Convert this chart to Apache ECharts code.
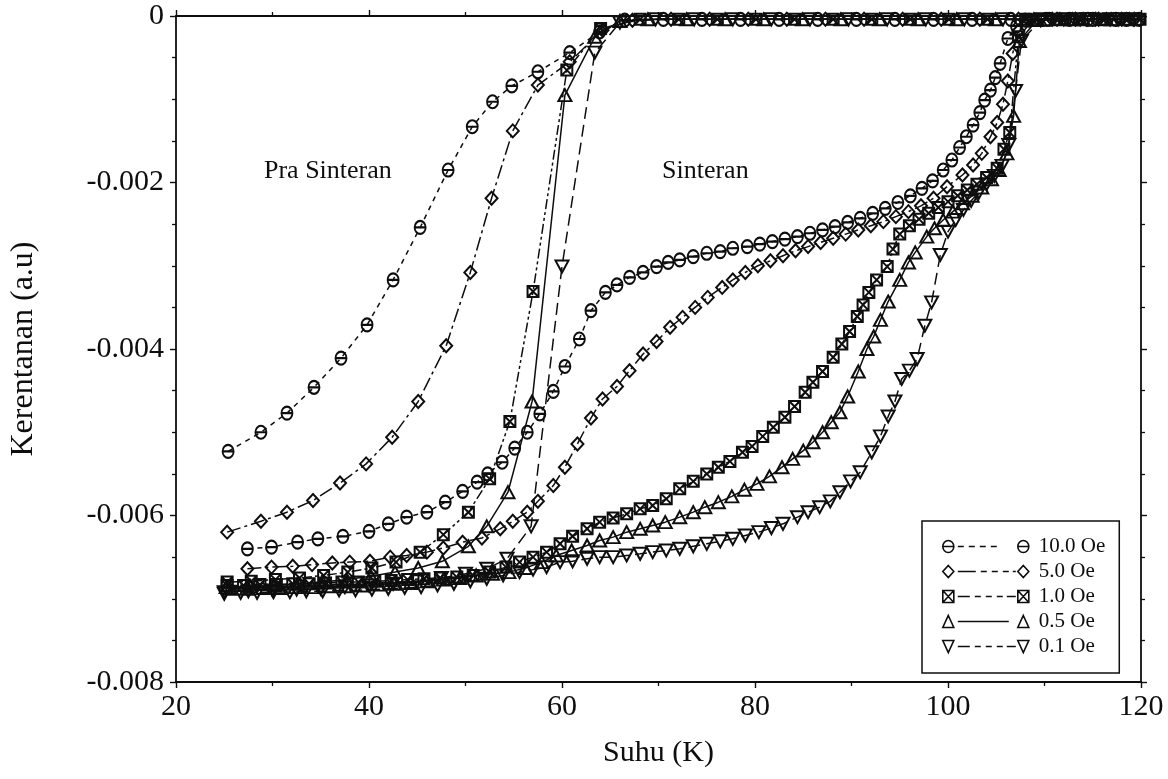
<!DOCTYPE html>
<html>
<head>
<meta charset="utf-8">
<script src="https://cdn.jsdelivr.net/npm/echarts@6/dist/echarts.min.js"></script>
<style>
  html, body { margin: 0; background: #fff; }
  #main { width: 1168px; height: 779px; }
</style>
</head>
<body>
<div id="main"></div>
<script>
// medan magnet (legend)
const fields = ['10.0 Oe', '5.0 Oe', '1.0 Oe', '0.5 Oe', '0.1 Oe'];

// Pra Sinteran: [suhu (K), kerentanan (a.u)]
const pra10 = [[25.4,-0.00523],[28.8,-0.00500],[31.5,-0.00477],[34.3,-0.00446],[37.1,-0.00411],[39.8,-0.00371],[42.5,-0.00317],[45.3,-0.00254],[48.2,-0.00185],[50.7,-0.00133],[52.8,-0.00103],[54.8,-0.00084],[57.5,-0.00067],[60.8,-0.00044],[63.9,-0.00019],[66.5,-0.00005],[70.5,-0.00004],[74.5,-0.00004],[78.5,-0.00004],[82.5,-0.00004],[86.5,-0.00004],[90.5,-0.00004],[94.5,-0.00004],[98.5,-0.00004],[102.5,-0.00004],[106.5,-0.00004],[110.5,-0.00004],[114.5,-0.00004],[118.5,-0.00004]];
const pra5 = [[25.3,-0.00620],[28.8,-0.00607],[31.5,-0.00596],[34.2,-0.00582],[37.0,-0.00561],[39.7,-0.00538],[42.4,-0.00506],[45.1,-0.00463],[48.0,-0.00396],[50.5,-0.00308],[52.7,-0.00219],[54.9,-0.00138],[57.5,-0.00083],[60.8,-0.00055],[64.2,-0.00017],[67.3,-0.00005],[71.3,-0.00004],[75.3,-0.00004],[79.3,-0.00004],[83.3,-0.00004],[87.3,-0.00004],[91.3,-0.00004],[95.3,-0.00004],[99.3,-0.00004],[103.3,-0.00004],[107.3,-0.00004],[111.3,-0.00004],[115.3,-0.00004],[119.3,-0.00004]];
const pra1 = [[25.3,-0.00680],[27.8,-0.00679],[30.3,-0.00677],[32.8,-0.00675],[35.3,-0.00672],[37.8,-0.00668],[40.3,-0.00663],[42.8,-0.00656],[45.3,-0.00644],[47.7,-0.00623],[50.3,-0.00596],[52.5,-0.00556],[54.6,-0.00487],[57.0,-0.00331],[60.5,-0.00065],[64.0,-0.00015],[68.1,-0.00004],[72.1,-0.00004],[76.1,-0.00004],[80.1,-0.00004],[84.1,-0.00004],[88.1,-0.00004],[92.1,-0.00004],[96.1,-0.00004],[100.1,-0.00004],[104.1,-0.00004],[108.1,-0.00004],[112.1,-0.00004],[116.1,-0.00004],[119.9,-0.00004]];
const pra05 = [[25.2,-0.00686],[27.7,-0.00685],[30.2,-0.00684],[32.7,-0.00682],[35.2,-0.00680],[37.7,-0.00677],[40.2,-0.00673],[42.7,-0.00668],[45.1,-0.00663],[47.6,-0.00655],[50.3,-0.00637],[52.2,-0.00613],[54.4,-0.00572],[56.9,-0.00463],[60.3,-0.00095],[63.4,-0.00025],[66.0,-0.00006],[68.9,-0.00004],[72.9,-0.00004],[76.9,-0.00004],[80.9,-0.00004],[84.9,-0.00004],[88.9,-0.00004],[92.9,-0.00004],[96.9,-0.00004],[100.9,-0.00004],[104.9,-0.00004],[108.9,-0.00004],[112.9,-0.00004],[116.9,-0.00004]];
const pra01 = [[25.0,-0.00692],[27.5,-0.00691],[30.0,-0.00690],[32.5,-0.00689],[35.0,-0.00688],[37.5,-0.00686],[40.0,-0.00684],[42.5,-0.00682],[45.0,-0.00679],[47.5,-0.00675],[50.0,-0.00670],[52.2,-0.00664],[54.3,-0.00652],[56.8,-0.00613],[60.0,-0.00301],[63.4,-0.00044],[66.0,-0.00008],[69.7,-0.00004],[73.7,-0.00004],[77.7,-0.00004],[81.7,-0.00004],[85.7,-0.00004],[89.7,-0.00004],[93.7,-0.00004],[97.7,-0.00004],[101.7,-0.00004],[105.7,-0.00004],[109.7,-0.00004],[113.7,-0.00004],[117.7,-0.00004]];

// Sinteran
const sin10 = [[27.4,-0.00640],[29.9,-0.00638],[32.6,-0.00632],[34.7,-0.00628],[37.3,-0.00625],[40.0,-0.00619],[42.0,-0.00610],[43.9,-0.00602],[46.0,-0.00596],[47.9,-0.00584],[49.7,-0.00571],[51.2,-0.00560],[52.3,-0.00550],[53.8,-0.00536],[55.1,-0.00519],[56.4,-0.00500],[57.7,-0.00478],[59.1,-0.00451],[60.3,-0.00421],[61.8,-0.00388],[63.0,-0.00354],[64.5,-0.00332],[65.7,-0.00323],[67.0,-0.00314],[68.4,-0.00308],[69.8,-0.00301],[71.0,-0.00296],[72.2,-0.00293],[73.6,-0.00289],[75.0,-0.00285],[76.4,-0.00283],[77.7,-0.00279],[79.2,-0.00277],[80.5,-0.00274],[81.8,-0.00271],[83.1,-0.00268],[84.4,-0.00265],[85.7,-0.00261],[87.0,-0.00257],[88.3,-0.00253],[89.6,-0.00248],[90.9,-0.00243],[92.2,-0.00237],[93.5,-0.00231],[94.8,-0.00224],[96.1,-0.00216],[97.3,-0.00207],[98.4,-0.00198],[99.5,-0.00185],[100.4,-0.00173],[101.2,-0.00158],[101.9,-0.00145],[102.6,-0.00131],[103.3,-0.00116],[103.8,-0.00101],[104.4,-0.00089],[104.9,-0.00074],[105.4,-0.00057],[106.2,-0.00027],[107.1,-0.00012],[108.0,-0.00005],[110.2,-0.00004],[112.6,-0.00004],[115.0,-0.00004],[117.4,-0.00004],[119.8,-0.00004]];
const sin5 = [[27.4,-0.00664],[29.9,-0.00662],[32.1,-0.00661],[34.1,-0.00659],[36.2,-0.00657],[38.0,-0.00656],[40.1,-0.00655],[42.2,-0.00650],[43.9,-0.00648],[46.0,-0.00644],[47.7,-0.00639],[49.7,-0.00632],[51.7,-0.00627],[53.6,-0.00616],[54.9,-0.00607],[56.4,-0.00596],[57.5,-0.00583],[59.1,-0.00564],[60.3,-0.00542],[61.6,-0.00514],[63.0,-0.00483],[64.2,-0.00460],[65.7,-0.00445],[67.0,-0.00426],[68.4,-0.00406],[69.8,-0.00391],[71.2,-0.00374],[72.5,-0.00362],[73.8,-0.00350],[75.1,-0.00338],[76.6,-0.00326],[77.7,-0.00317],[79.0,-0.00308],[80.3,-0.00300],[81.6,-0.00294],[82.9,-0.00288],[84.2,-0.00282],[85.5,-0.00277],[86.8,-0.00272],[88.1,-0.00267],[89.4,-0.00262],[90.7,-0.00257],[92.0,-0.00252],[93.3,-0.00247],[94.6,-0.00241],[95.9,-0.00235],[97.2,-0.00228],[98.5,-0.00219],[99.9,-0.00205],[101.5,-0.00191],[102.6,-0.00179],[103.5,-0.00165],[104.4,-0.00145],[105.1,-0.00128],[105.7,-0.00106],[106.2,-0.00078],[106.7,-0.00045],[107.3,-0.00018],[108.4,-0.00005],[110.8,-0.00004],[113.2,-0.00004],[115.6,-0.00004],[118.0,-0.00004]];
const sin1 = [[25.3,-0.00684],[27.0,-0.00684],[28.7,-0.00683],[30.4,-0.00683],[32.1,-0.00682],[33.8,-0.00682],[35.5,-0.00681],[37.2,-0.00680],[38.9,-0.00680],[40.6,-0.00679],[42.3,-0.00678],[44.0,-0.00677],[45.7,-0.00676],[47.4,-0.00675],[49.1,-0.00674],[50.8,-0.00672],[52.5,-0.00668],[54.2,-0.00662],[55.6,-0.00656],[57.0,-0.00650],[58.4,-0.00644],[59.8,-0.00634],[61.1,-0.00625],[62.6,-0.00616],[63.9,-0.00608],[65.3,-0.00603],[66.7,-0.00598],[68.1,-0.00592],[69.4,-0.00588],[70.8,-0.00580],[72.2,-0.00568],[73.6,-0.00559],[75.0,-0.00550],[76.2,-0.00542],[77.4,-0.00535],[78.7,-0.00524],[79.7,-0.00517],[80.8,-0.00505],[81.9,-0.00494],[83.1,-0.00482],[84.1,-0.00469],[85.2,-0.00452],[86.0,-0.00440],[87.0,-0.00427],[88.1,-0.00410],[89.0,-0.00394],[89.8,-0.00379],[90.6,-0.00361],[91.2,-0.00347],[91.8,-0.00332],[92.6,-0.00317],[93.7,-0.00301],[94.3,-0.00280],[95.0,-0.00262],[96.0,-0.00252],[97.0,-0.00244],[98.0,-0.00237],[99.0,-0.00230],[100.0,-0.00223],[101.0,-0.00216],[102.0,-0.00209],[103.0,-0.00202],[104.0,-0.00194],[105.1,-0.00183],[105.8,-0.00160],[106.4,-0.00140],[107.3,-0.00025],[108.8,-0.00005],[111.2,-0.00004],[113.6,-0.00004],[116.0,-0.00004],[118.4,-0.00004]];
const sin05 = [[25.6,-0.00688],[27.3,-0.00688],[29.0,-0.00687],[30.7,-0.00687],[32.4,-0.00686],[34.1,-0.00686],[35.8,-0.00685],[37.5,-0.00685],[39.2,-0.00684],[40.9,-0.00683],[42.6,-0.00682],[44.3,-0.00681],[46.0,-0.00679],[47.7,-0.00677],[49.4,-0.00675],[51.1,-0.00672],[52.8,-0.00670],[54.5,-0.00668],[56.2,-0.00663],[57.9,-0.00656],[59.4,-0.00648],[61.0,-0.00642],[62.6,-0.00636],[63.9,-0.00630],[65.3,-0.00626],[66.7,-0.00620],[68.1,-0.00616],[69.4,-0.00612],[70.7,-0.00608],[72.2,-0.00602],[73.6,-0.00596],[74.8,-0.00590],[76.2,-0.00584],[77.6,-0.00577],[78.9,-0.00569],[80.2,-0.00562],[81.5,-0.00553],[82.8,-0.00542],[83.9,-0.00532],[85.0,-0.00522],[86.0,-0.00512],[87.0,-0.00500],[87.9,-0.00488],[88.8,-0.00476],[89.6,-0.00457],[90.7,-0.00427],[91.6,-0.00400],[92.3,-0.00385],[93.0,-0.00365],[93.8,-0.00343],[95.0,-0.00317],[95.9,-0.00296],[96.6,-0.00284],[97.8,-0.00265],[98.6,-0.00255],[99.5,-0.00245],[100.5,-0.00235],[101.5,-0.00225],[102.5,-0.00216],[103.5,-0.00206],[104.5,-0.00196],[105.3,-0.00185],[106.1,-0.00165],[106.8,-0.00120],[107.4,-0.00030],[109.2,-0.00005],[111.6,-0.00004],[114.0,-0.00004],[116.4,-0.00004],[118.8,-0.00004]];
const sin01 = [[25.0,-0.00694],[26.7,-0.00693],[28.4,-0.00693],[30.1,-0.00692],[31.8,-0.00692],[33.5,-0.00691],[35.2,-0.00691],[36.9,-0.00690],[38.6,-0.00690],[40.3,-0.00689],[42.0,-0.00688],[43.7,-0.00687],[45.4,-0.00686],[47.1,-0.00684],[48.8,-0.00682],[50.5,-0.00679],[52.2,-0.00676],[53.9,-0.00672],[55.6,-0.00668],[57.0,-0.00665],[58.4,-0.00662],[59.8,-0.00656],[61.1,-0.00655],[62.6,-0.00652],[63.9,-0.00650],[65.3,-0.00650],[66.7,-0.00648],[68.1,-0.00646],[69.4,-0.00644],[70.8,-0.00642],[72.2,-0.00640],[73.6,-0.00637],[75.0,-0.00634],[76.4,-0.00631],[77.7,-0.00628],[79.0,-0.00624],[80.4,-0.00620],[81.7,-0.00615],[82.9,-0.00610],[84.4,-0.00602],[85.5,-0.00596],[86.7,-0.00590],[87.8,-0.00583],[88.8,-0.00572],[89.9,-0.00559],[90.9,-0.00548],[92.1,-0.00524],[93.0,-0.00505],[93.8,-0.00481],[94.5,-0.00463],[95.2,-0.00436],[96.0,-0.00426],[96.8,-0.00412],[97.6,-0.00372],[98.3,-0.00344],[99.2,-0.00287],[100.0,-0.00259],[100.8,-0.00245],[101.6,-0.00233],[102.4,-0.00222],[103.2,-0.00212],[104.0,-0.00202],[104.8,-0.00192],[105.6,-0.00180],[106.3,-0.00155],[107.0,-0.00090],[107.6,-0.00030],[109.6,-0.00005],[112.0,-0.00004],[114.4,-0.00004],[116.8,-0.00004],[119.2,-0.00004]];

const xTicks = [20, 40, 60, 80, 100, 120];

// symbol shapes, drawn in a box starting at x0, width w, height h
function circ(x0, w, h) {
  const rx = w / 2, ry = h / 2, cx = x0 + rx, cy = ry, a = 0.5523 * rx, b = 0.5523 * ry;
  return `M${cx - rx},${cy} C${cx - rx},${cy - b} ${cx - a},${cy - ry} ${cx},${cy - ry} ` +
    `C${cx + a},${cy - ry} ${cx + rx},${cy - b} ${cx + rx},${cy} ` +
    `C${cx + rx},${cy + b} ${cx + a},${cy + ry} ${cx},${cy + ry} ` +
    `C${cx - a},${cy + ry} ${cx - rx},${cy + b} ${cx - rx},${cy} Z M${cx - rx},${cy} L${cx + rx},${cy}`;
}
const diam = (x0, w, h) => `M${x0 + w / 2},0 L${x0 + w},${h / 2} L${x0 + w / 2},${h} L${x0},${h / 2} Z`;
const sqx = (x0, w, h) => `M${x0},0 L${x0 + w},0 L${x0 + w},${h} L${x0},${h} Z M${x0},0 L${x0 + w},${h} M${x0 + w},0 L${x0},${h}`;
const tri = (x0, w, h) => `M${x0 + w / 2},0 L${x0 + w},${h} L${x0},${h} Z`;
const dtri = (x0, w, h) => `M${x0},0 L${x0 + w},0 L${x0 + w / 2},${h} Z`;
const segs = (list, y) => list.map(s => `M${s[0]},${y} L${s[1]},${y}`).join(' ');

const looks = [
  { shape: circ, size: [11, 13], dash: [5, 5], legend: [[15, 21], [26, 32], [37, 43], [48, 54]] },
  { shape: diam, size: [12, 13], dash: [14, 4, 3, 4], legend: [[15, 33], [38, 44], [49, 55], [60, 66], [70, 73]] },
  { shape: sqx, size: [11, 11], dash: [10, 3, 3, 3, 3, 3], legend: [[15, 27], [32, 38], [43, 49], [54, 60], [64, 73]] },
  { shape: tri, size: [13, 12], dash: 'solid', legend: [[15, 66]] },
  { shape: dtri, size: [13, 12], dash: [12, 6], legend: [[15, 27], [32, 38], [43, 49], [54, 60], [64, 73]] }
];

const praSets = [pra10, pra5, pra1, pra05, pra01];
const sinSets = [sin10, sin5, sin1, sin05, sin01];

const ink = '#0e0e0e';
const serif = 'Liberation Serif';

const series = [];
fields.forEach((name, i) => {
  const lk = looks[i];
  [praSets[i], sinSets[i]].forEach(set => {
    series.push({
      name: name,
      type: 'line',
      data: set,
      symbol: 'path://' + lk.shape(0, 20, 20),
      symbolSize: lk.size,
      symbolKeepAspect: false,
      itemStyle: { color: 'rgba(0,0,0,0)', borderColor: ink, borderWidth: 2 },
      lineStyle: { color: ink, width: 1.5, type: lk.dash },
      emphasis: { disabled: true }
    });
  });
});

const legendData = fields.map((name, i) => {
  const lk = looks[i];
  return {
    name: name,
    icon: 'path://' + lk.shape(0, 11, 12) + ' ' + segs(lk.legend, 6) + ' ' + lk.shape(75, 11, 12)
  };
});

const tickStyle = { show: true, inside: false, length: 6, lineStyle: { color: ink, width: 1.4 } };
const minorStyle = { show: true, splitNumber: 2, length: 4, lineStyle: { color: ink, width: 1.3 } };
const axisLine = { show: true, onZero: false, lineStyle: { color: ink, width: 1.8 } };

const myChart = echarts.init(document.querySelector('#main'));
const option = {
  animation: false,
  backgroundColor: '#fff',
  grid: { left: 176, right: 27, top: 16, bottom: 97 },
  legend: {
    orient: 'vertical',
    left: 922,
    top: 521,
    padding: [15, 14, 16, 20],
    itemWidth: 86,
    itemHeight: 12,
    itemGap: 4,
    selectedMode: false,
    borderColor: ink,
    borderWidth: 1.5,
    itemStyle: { color: 'rgba(0,0,0,0)', borderColor: ink, borderWidth: 1.6 },
    textStyle: { fontFamily: serif, fontSize: 21, lineHeight: 21, color: ink, padding: [0, 0, 0, 5] },
    data: legendData
  },
  xAxis: [
    {
      type: 'value', min: 20, max: 120, interval: 20,
      name: 'Suhu (K)', nameLocation: 'middle', nameGap: 56,
      nameTextStyle: { fontFamily: serif, fontSize: 30, color: ink },
      axisLine: axisLine, axisTick: tickStyle, minorTick: minorStyle,
      splitLine: { show: false },
      axisLabel: {
        margin: 10, fontFamily: serif, fontSize: 30, color: ink,
        formatter: v => xTicks.includes(v) ? String(v) : ''
      }
    },
    {
      type: 'value', position: 'top', min: 20, max: 120, interval: 20,
      axisLine: axisLine, axisTick: tickStyle, minorTick: minorStyle,
      splitLine: { show: false }, axisLabel: { show: false }
    }
  ],
  yAxis: [
    {
      type: 'value', min: -0.008, max: 0, interval: 0.002,
      name: 'Kerentanan (a.u)', nameLocation: 'middle', nameGap: 136,
      nameTextStyle: { fontFamily: serif, fontSize: 32, color: ink },
      axisLine: axisLine, axisTick: tickStyle,
      minorTick: Object.assign({}, minorStyle, { splitNumber: 4 }),
      splitLine: { show: false },
      axisLabel: {
        margin: 12, fontFamily: serif, fontSize: 30, color: ink,
        formatter: v => (Math.abs(v) < 1e-9 ? '0' : v.toFixed(3))
      }
    },
    {
      type: 'value', position: 'right', min: -0.008, max: 0, interval: 0.002,
      axisLine: axisLine, axisTick: tickStyle,
      minorTick: Object.assign({}, minorStyle, { splitNumber: 4 }),
      splitLine: { show: false }, axisLabel: { show: false }
    }
  ],
  graphic: [
    { type: 'text', left: 264, top: 158, style: { text: 'Pra Sinteran', font: '26px "Liberation Serif"', fill: ink } },
    { type: 'text', left: 662, top: 158, style: { text: 'Sinteran', font: '26px "Liberation Serif"', fill: ink } }
  ],
  series: series
};
option && myChart.setOption(option);
</script>
</body>
</html>
